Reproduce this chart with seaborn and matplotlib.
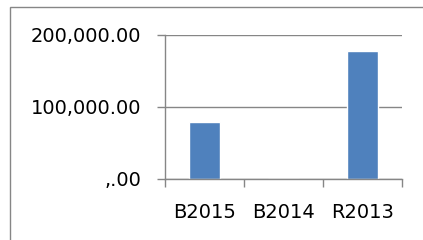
import matplotlib
matplotlib.use("Agg")
import matplotlib.pyplot as plt
import seaborn as sns
import pandas as pd
from matplotlib.patches import Rectangle

# data
categories = ["B2015", "B2014", "R2013"]
values = [79000, 0, 178000]
ytick_values = [0, 100000, 200000]
ytick_labels = [",.00", "100,000.00", "200,000.00"]

df = pd.DataFrame({"category": categories, "value": values})

sns.set_theme(style="white")
plt.rcParams["font.family"] = ["DejaVu Sans"]

fig = plt.figure(figsize=(4.23, 2.40), dpi=100)
ax = fig.add_axes([165 / 423, 1 - 179 / 240, 237 / 423, 144 / 240])

sns.barplot(data=df, x="category", y="value", color="#4F81BD", saturation=1,
            width=0.4, ax=ax)

gray = "#868686"
ax.set_xlim(-0.5, 2.5)
ax.set_ylim(0, 200000)
ax.set_yticks(ytick_values)
ax.set_yticklabels(ytick_labels, fontsize=14, color="black")
ax.yaxis.grid(True, color=gray, linewidth=1)
ax.set_axisbelow(True)

# category labels centred, tick marks on the boundaries like Excel
ax.set_xticks(range(len(categories)))
ax.set_xticklabels(categories, fontsize=14, color="black")
ax.set_xticks([-0.5, 0.5, 1.5, 2.5], minor=True)
ax.tick_params(axis="x", which="major", length=0, pad=17)
ax.tick_params(axis="x", which="minor", length=6, width=1, color=gray,
               direction="out", bottom=True)
ax.tick_params(axis="y", which="major", length=6, width=1, color=gray,
               direction="out", left=True, pad=11)
ax.set_xlabel("")
ax.set_ylabel("")

for side in ["top", "right"]:
    ax.spines[side].set_visible(False)
for side in ["left", "bottom"]:
    ax.spines[side].set_color(gray)
    ax.spines[side].set_linewidth(1)

# chart area border (cut off on the right and bottom)
fig.patches.append(Rectangle((10 / 423, -0.1), 1.2, 1 - 7 / 240 + 0.1,
                             transform=fig.transFigure, fill=False,
                             edgecolor=gray, linewidth=1))

fig.savefig("out.png", dpi=100)
